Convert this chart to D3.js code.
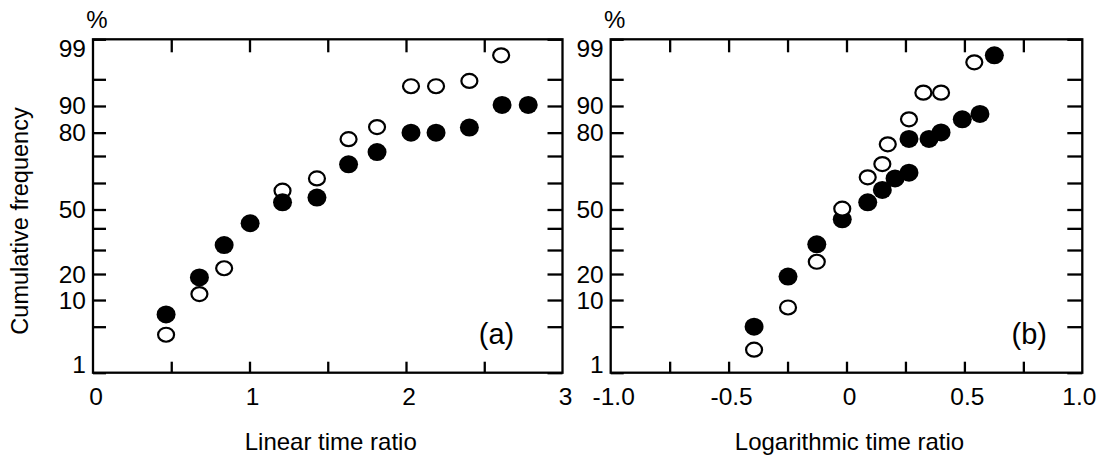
<!DOCTYPE html>
<html>
<head>
<meta charset="utf-8">
<script src="https://cdn.jsdelivr.net/npm/d3@7"></script>
<style>
  html, body { margin: 0; padding: 0; background: #fff; }
  svg { display: block; }
  text { font-family: "Liberation Sans", Arial, sans-serif; fill: #000; }
  text.xtitle { font-family: "Liberation Sans Narrow", "Arial Narrow", "Liberation Sans", sans-serif; }
</style>
</head>
<body>
<svg id="chart" width="1107" height="468"></svg>
<script>
// ---------------- DATA ----------------
const probTickValues = [1, 5, 10, 20, 30, 40, 50, 60, 70, 80, 90, 95, 99];
const probTickLabels = ["1", "", "10", "20", "", "", "50", "", "", "80", "90", "", "99"];

const linTickValues = [0.5, 1, 1.5, 2, 2.5];
const linTickLabels = ["0", "1", "2", "3"];
const linTickLabelValues = [0, 1, 2, 3];

const logTickValues = [-0.75, -0.5, -0.25, 0, 0.25, 0.5, 0.75];
const logTickLabels = ["-1.0", "-0.5", "0", "0.5", "1.0"];
const logTickLabelValues = [-1, -0.5, 0, 0.5, 1];

// panel (a): linear time ratio
const linFilledX = [0.467, 0.680, 0.838, 1.004, 1.211, 1.431, 1.633, 1.815, 2.032, 2.192, 2.405, 2.614, 2.781];
const linFilledY = [7.3, 18.7, 32.3, 42.7, 52.7, 54.5, 66.9, 71.7, 80.0, 80.0, 81.9, 90.2, 90.2];
const linOpenX   = [0.467, 0.680, 0.838, 1.211, 1.431, 1.633, 1.815, 2.032, 2.192, 2.405, 2.608];
const linOpenY   = [4.3, 12.3, 22.4, 57.1, 61.7, 77.2, 82.1, 93.7, 93.7, 94.7, 97.4];

// panel (b): logarithmic time ratio
const logFilledX = [-0.392, -0.248, -0.126, -0.018, 0.090, 0.152, 0.206, 0.265, 0.265, 0.350, 0.401, 0.491, 0.566, 0.627];
const logFilledY = [5.0, 19.0, 32.6, 44.8, 52.7, 57.4, 61.7, 63.8, 77.3, 77.3, 80.1, 85.0, 87.0, 97.4];
const logOpenX   = [-0.392, -0.248, -0.126, -0.018, 0.090, 0.152, 0.175, 0.265, 0.326, 0.401, 0.542];
const logOpenY   = [3.0, 8.6, 25.1, 50.3, 62.1, 67.0, 75.0, 85.0, 92.5, 92.5, 96.7];

const yTitle = "Cumulative frequency";
const unitLabel = "%";

// ---------------- LAYOUT ----------------
const svg = d3.select("#chart");
const plotTop = 39.3, plotBottom = 372.7;
const H = plotBottom - plotTop;
// relative vertical placement of the probability grid (hand-drawn paper)
const probFrac = [1, 0.862, 0.782, 0.704, 0.632, 0.567, 0.5105, 0.431, 0.350, 0.280, 0.200, 0.120, 0];
const yScale = d3.scaleLinear()
  .domain(probTickValues)
  .range(probFrac.map(f => plotTop + f * H));

const panels = [
  {
    x0: 93, x1: 562.5, domain: [0, 3],
    ticks: linTickValues, labels: linTickLabels, labelValues: linTickLabelValues,
    filled: linFilledX.map((x, i) => ({x, y: linFilledY[i]})),
    open: linOpenX.map((x, i) => ({x, y: linOpenY[i]})),
    tag: "(a)", title: "Linear time ratio", openOnTop: false
  },
  {
    x0: 610.7, x1: 1082.3, domain: [-1, 1],
    ticks: logTickValues, labels: logTickLabels, labelValues: logTickLabelValues,
    filled: logFilledX.map((x, i) => ({x, y: logFilledY[i]})),
    open: logOpenX.map((x, i) => ({x, y: logOpenY[i]})),
    tag: "(b)", title: "Logarithmic time ratio", openOnTop: true
  }
];

const SW = 2.3;

panels.forEach(p => {
  const xScale = d3.scaleLinear().domain(p.domain).range([p.x0, p.x1]);
  const g = svg.append("g");

  const leftAxis = d3.axisLeft(yScale).tickValues(probTickValues).tickSize(-13).tickFormat("");
  const rightAxis = d3.axisRight(yScale).tickValues(probTickValues).tickSize(-15).tickFormat("");
  const topAxis = d3.axisTop(xScale).tickValues(p.ticks).tickSize(-13).tickFormat("");
  const botAxis = d3.axisBottom(xScale).tickValues(p.ticks).tickSize(-11).tickFormat("");

  [[leftAxis, `translate(${p.x0},0)`], [rightAxis, `translate(${p.x1},0)`],
   [topAxis, `translate(0,${plotTop})`], [botAxis, `translate(0,${plotBottom})`]].forEach(([ax, tr]) => {
    const a = g.append("g").attr("transform", tr).call(ax);
    a.select(".domain").remove();
    a.selectAll("line").attr("stroke", "#000").attr("stroke-width", SW);
  });

  g.append("rect")
    .attr("x", p.x0).attr("y", plotTop)
    .attr("width", p.x1 - p.x0).attr("height", plotBottom - plotTop)
    .attr("fill", "none").attr("stroke", "#000").attr("stroke-width", SW);

  probTickValues.forEach((v, i) => {
    if (!probTickLabels[i]) return;
    let y = yScale(v);
    y = Math.max(plotTop + 9.5, Math.min(plotBottom - 8.5, y));
    g.append("text")
      .attr("x", p.x0 - 7).attr("y", y)
      .attr("text-anchor", "end").attr("dominant-baseline", "central")
      .attr("font-size", 24.5)
      .text(probTickLabels[i]);
  });

  p.labelValues.forEach((v, i) => {
    g.append("text")
      .attr("x", xScale(v) + (i === p.labelValues.length - 1 && p.domain[0] < 0 ? -3 : 3))
      .attr("y", 405)
      .attr("text-anchor", "middle")
      .attr("font-size", 24.5)
      .text(p.labels[i]);
  });

  g.append("text")
    .attr("x", p.x0 + 4).attr("y", 28)
    .attr("text-anchor", "middle")
    .attr("font-size", 24)
    .text(unitLabel);

  g.append("text")
    .attr("class", "xtitle")
    .attr("x", (p.x0 + p.x1) / 2 + 3).attr("y", 450)
    .attr("text-anchor", "middle")
    .attr("font-size", 24)
    .text(p.title);

  g.append("text")
    .attr("x", p.x1 - (p.domain[0] < 0 ? 53 : 66)).attr("y", 344)
    .attr("text-anchor", "middle")
    .attr("font-size", 29)
    .text(p.tag);

  const drawFilled = () => g.append("g").selectAll("ellipse").data(p.filled).join("ellipse")
    .attr("cx", d => xScale(d.x)).attr("cy", d => yScale(d.y))
    .attr("rx", 9.5).attr("ry", 9)
    .attr("fill", "#000");
  const drawOpen = () => g.append("g").selectAll("ellipse").data(p.open).join("ellipse")
    .attr("cx", d => xScale(d.x)).attr("cy", d => yScale(d.y))
    .attr("rx", 8).attr("ry", 7)
    .attr("fill", "#fff").attr("stroke", "#000").attr("stroke-width", 2.2);

  if (p.openOnTop) { drawFilled(); drawOpen(); } else { drawOpen(); drawFilled(); }
});

svg.append("text")
  .attr("transform", "translate(28,221) rotate(-90)")
  .attr("text-anchor", "middle")
  .attr("font-size", 23.5)
  .text(yTitle);
</script>
</body>
</html>
